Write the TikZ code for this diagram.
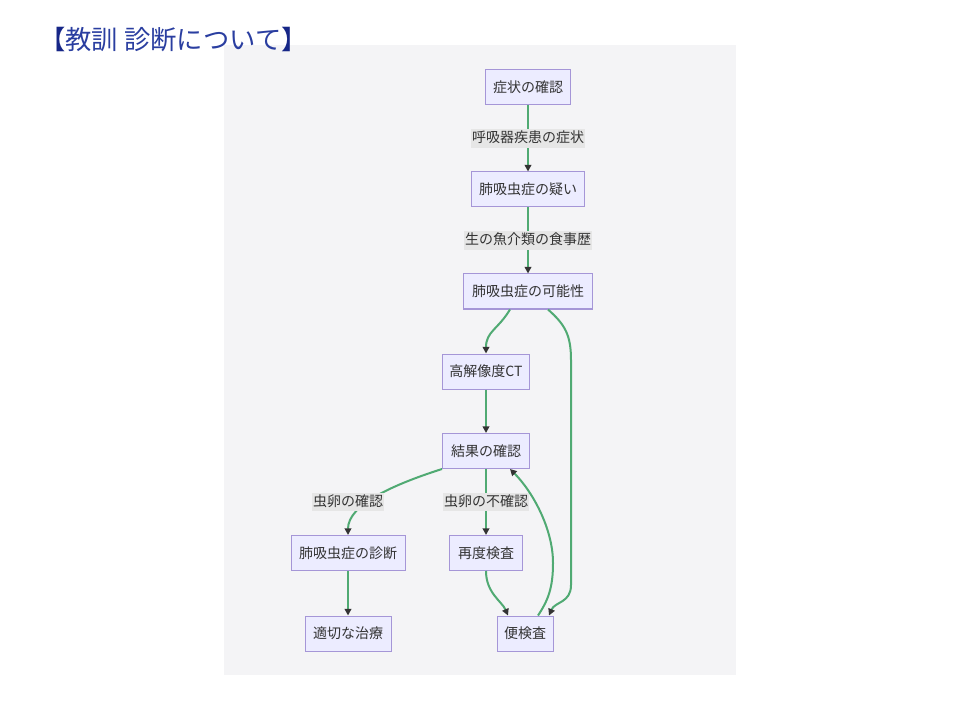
\documentclass[tikz,border=0pt]{standalone}
\usepackage{fontspec}
\newfontfamily\jpfont{Noto Sans CJK JP}
\usepackage{tikz}
\usetikzlibrary{arrows.meta}
\usetikzlibrary{calc}
\definecolor{panelbg}{RGB}{244,244,246}
\definecolor{boxfill}{RGB}{236,236,255}
\definecolor{boxline}{RGB}{165,150,215}
\definecolor{edgegreen}{RGB}{80,170,115}
\definecolor{lblbg}{RGB}{230,230,230}
\definecolor{txtgray}{RGB}{51,51,51}
\definecolor{titleblue}{RGB}{42,62,160}
\definecolor{titlenavy}{RGB}{22,38,135}

\begin{document}
\begin{tikzpicture}[x=0.75pt,y=0.75pt,yscale=-1,xscale=1,
  box/.style={draw=boxline,fill=boxfill,line width=0.75pt,text=txtgray,
    font=\jpfont\fontsize{10.5}{12}\selectfont,minimum height=26.25pt,
    inner xsep=3pt,inner ysep=0pt},
  lbl/.style={fill=lblbg,text=txtgray,font=\jpfont\fontsize{10.5}{12}\selectfont,
    text height=8.5pt,text depth=2.5pt,inner xsep=0.5pt,inner ysep=1.5pt},
  edge/.style={draw=edgegreen,line width=1.5pt,
    -{Triangle[length=5pt,width=5pt,color=txtgray]}}]
\useasboundingbox (0,0) rectangle (960,720);
\fill[panelbg] (224,45) rectangle (736,675);

% title
\node[anchor=base west,inner sep=0pt,font=\jpfont\fontsize{19.75}{23}\selectfont,text=titleblue] (title) at (39,50)
  {\textcolor{titlenavy}{【}教訓 診断について\textcolor{titlenavy}{】}};

% nodes
\node[box,minimum width=63.75pt] (shojo) at (528,87.5) {症状の確認};
\node[box,minimum width=84.75pt] (utagai) at (528,189.5) {肺吸虫症の疑い};
\node[box,minimum width=96.75pt] (kanou) at (528,291.5) {肺吸虫症の可能性};
\node[box,minimum width=65.25pt] (ct) at (486,371.5) {高解像度CT};
\node[box,minimum width=65.25pt] (kekka) at (486,451) {結果の確認};
\node[box,minimum width=85.5pt] (shindan) at (348,553) {肺吸虫症の診断};
\node[box,minimum width=54.75pt] (saido) at (486,553) {再度検査};
\node[box,minimum width=64.5pt] (chiryo) at (348,633.5) {適切な治療};
\node[box,minimum width=42pt] (benken) at (525,633.5) {便検査};

% edges
\draw[edge] (shojo) -- (utagai) node[lbl,midway] (lblsym) {呼吸器疾患の症状};
\draw[edge] (utagai) -- (kanou) node[lbl,midway] (lblfood) {生の魚介類の食事歴};
\draw[edge] ([xshift=-13.5pt]kanou.south) .. controls +(-12,20) and +(0,-22) .. (ct.north);
\draw[edge] ([xshift=15pt]kanou.south) .. controls +(17,15) and +(0,-25) .. (571,360)
  -- (571,585) .. controls +(0,18) and +(6,-14) .. ([xshift=18pt]benken.north);
\draw[edge] (ct) -- (kekka);
\draw[edge] (kekka.south west) .. controls +(-50,16) and +(0,-30) .. (shindan.north);
\node[lbl] (lblegg) at (348,502) {虫卵の確認};
\draw[edge] (kekka) -- (saido) node[lbl,midway] (lblnoegg) {虫卵の不確認};
\draw[edge] (shindan) -- (chiryo);
\draw[edge] (saido.south) .. controls +(0,22) and +(-6,-14) .. ([xshift=-12.75pt]benken.north);
\draw[edge] ([xshift=9.75pt]benken.north) .. controls +(10,-15) and +(0,25) .. (553,563)
  .. controls +(0,-35) and +(22,22) .. ([xshift=18pt]kekka.south);
\end{tikzpicture}
\end{document}
